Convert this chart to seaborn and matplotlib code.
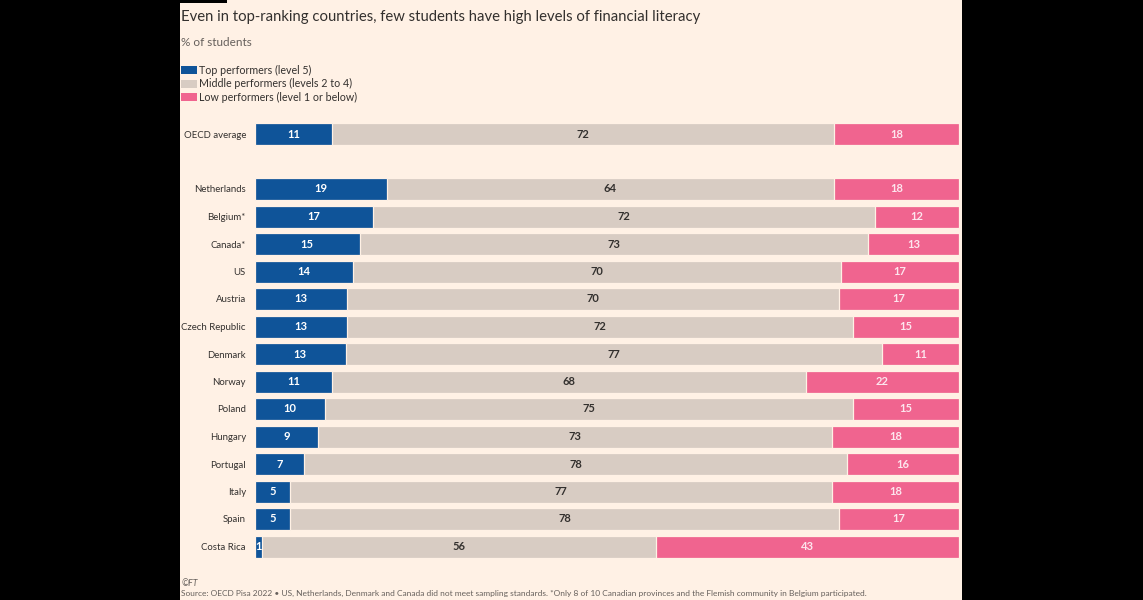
import numpy as np
import pandas as pd
import matplotlib
matplotlib.use("Agg")
import matplotlib.pyplot as plt
from matplotlib.patches import Rectangle
import seaborn as sns

# ---- data ----
countries = ["OECD average", "Netherlands", "Belgium*", "Canada*", "US", "Austria",
             "Czech Republic", "Denmark", "Norway", "Poland", "Hungary", "Portugal",
             "Italy", "Spain", "Costa Rica"]
top = [11, 19, 17, 15, 14, 13, 13, 13, 11, 10, 9, 7, 5, 5, 1]
mid = [72, 64, 72, 73, 70, 70, 72, 77, 68, 75, 73, 78, 77, 78, 56]
low = [18, 18, 12, 13, 17, 17, 15, 11, 22, 15, 18, 16, 18, 17, 43]
legend_labels = ["Top performers (level 5)", "Middle performers (levels 2 to 4)",
                 "Low performers (level 1 or below)"]

# ---- style ----
BG = "#FFF1E5"
BLUE = "#0F5499"
GREY = "#D8CCC3"
PINK = "#F0648F"
TXT = "#33302E"

sns.set_style("white")
plt.rcParams["font.family"] = ["Lato", "DejaVu Sans"]

df = pd.DataFrame({"country": countries, "top": top, "mid": mid, "low": low})
total = df["top"] + df["mid"] + df["low"]
df["s_top"] = df["top"] / total * 100
df["s_mid"] = df["mid"] / total * 100
df["s_low"] = df["low"] / total * 100
df["c1"] = df["s_top"]
df["c2"] = df["s_top"] + df["s_mid"]
df["c3"] = df["c2"] + df["s_low"]

# blank slot between the OECD average and the countries
order = [countries[0], " "] + countries[1:]

W, H = 1143, 600
fig = plt.figure(figsize=(W / 100, H / 100), dpi=100)
fig.patch.set_facecolor("black")
fig.add_artist(Rectangle((180 / W, 0), 782 / W, 1, transform=fig.transFigure,
                         facecolor=BG, edgecolor="none", zorder=-2))
fig.add_artist(Rectangle((180 / W, 1 - 3 / H), 47 / W, 3 / H, transform=fig.transFigure,
                         facecolor="black", edgecolor="none", zorder=-1))

ax = fig.add_axes([255 / W, 1 - 560.25 / H, 704 / W, 440 / H])
ax.set_facecolor("none")

# stacked bars: draw cumulative totals from the widest down
for col, c in [("c3", PINK), ("c2", GREY), ("c1", BLUE)]:
    sns.barplot(data=df, y="country", x=col, order=order, color=c, orient="h",
                width=0.8, edgecolor=BG, linewidth=0.9, saturation=1, ax=ax)

ax.set_xlim(0, 100)
ax.set_ylim(len(order) - 0.5, -0.5)
ax.set_xlabel("")
ax.set_ylabel("")
ax.set_xticks([])
sns.despine(ax=ax, left=True, bottom=True)
ax.tick_params(axis="y", length=0, pad=6.5, labelsize=6.9, labelcolor=TXT)

# value labels
pos = {c: i for i, c in enumerate(order)}
for _, r in df.iterrows():
    y = pos[r["country"]]
    ax.text(r["c1"] / 2, y, f"{r['top']}", ha="center", va="center",
            color="white", fontsize=8, fontweight="bold")
    ax.text(r["c1"] + r["s_mid"] / 2, y, f"{r['mid']}", ha="center", va="center",
            color=TXT, fontsize=8, fontweight="bold")
    ax.text(r["c2"] + r["s_low"] / 2, y, f"{r['low']}", ha="center", va="center",
            color="#FDE6EE", fontsize=8, fontweight="bold")

# titles
fig.text(181 / W, 1 - 17 / H, "Even in top-ranking countries, few students have high levels of financial literacy",
         ha="left", va="center", fontsize=10.7, color=TXT)
fig.text(181 / W, 1 - 43 / H, "% of students", ha="left", va="center", fontsize=8.5, color="#66605C")

# legend
for i, (lab, c) in enumerate(zip(legend_labels, [BLUE, GREY, PINK])):
    yc = 70 + i * 13.5
    fig.add_artist(Rectangle((181 / W, 1 - (yc + 4) / H), 16 / W, 8 / H,
                             transform=fig.transFigure, facecolor=c, edgecolor="none"))
    fig.text(199 / W, 1 - yc / H, lab, ha="left", va="center", fontsize=7.7, color=TXT)

# footer
fig.text(181 / W, 1 - 583 / H, "©FT", ha="left", va="center", fontsize=6.2,
         color="#66605C", style="italic")
fig.text(181 / W, 1 - 593 / H,
         "Source: OECD Pisa 2022 • US, Netherlands, Denmark and Canada did not meet sampling standards. "
         "*Only 8 of 10 Canadian provinces and the Flemish community in Belgium participated.",
         ha="left", va="center", fontsize=6.0, color="#66605C")

fig.savefig("out.png", dpi=100, facecolor=fig.get_facecolor())
